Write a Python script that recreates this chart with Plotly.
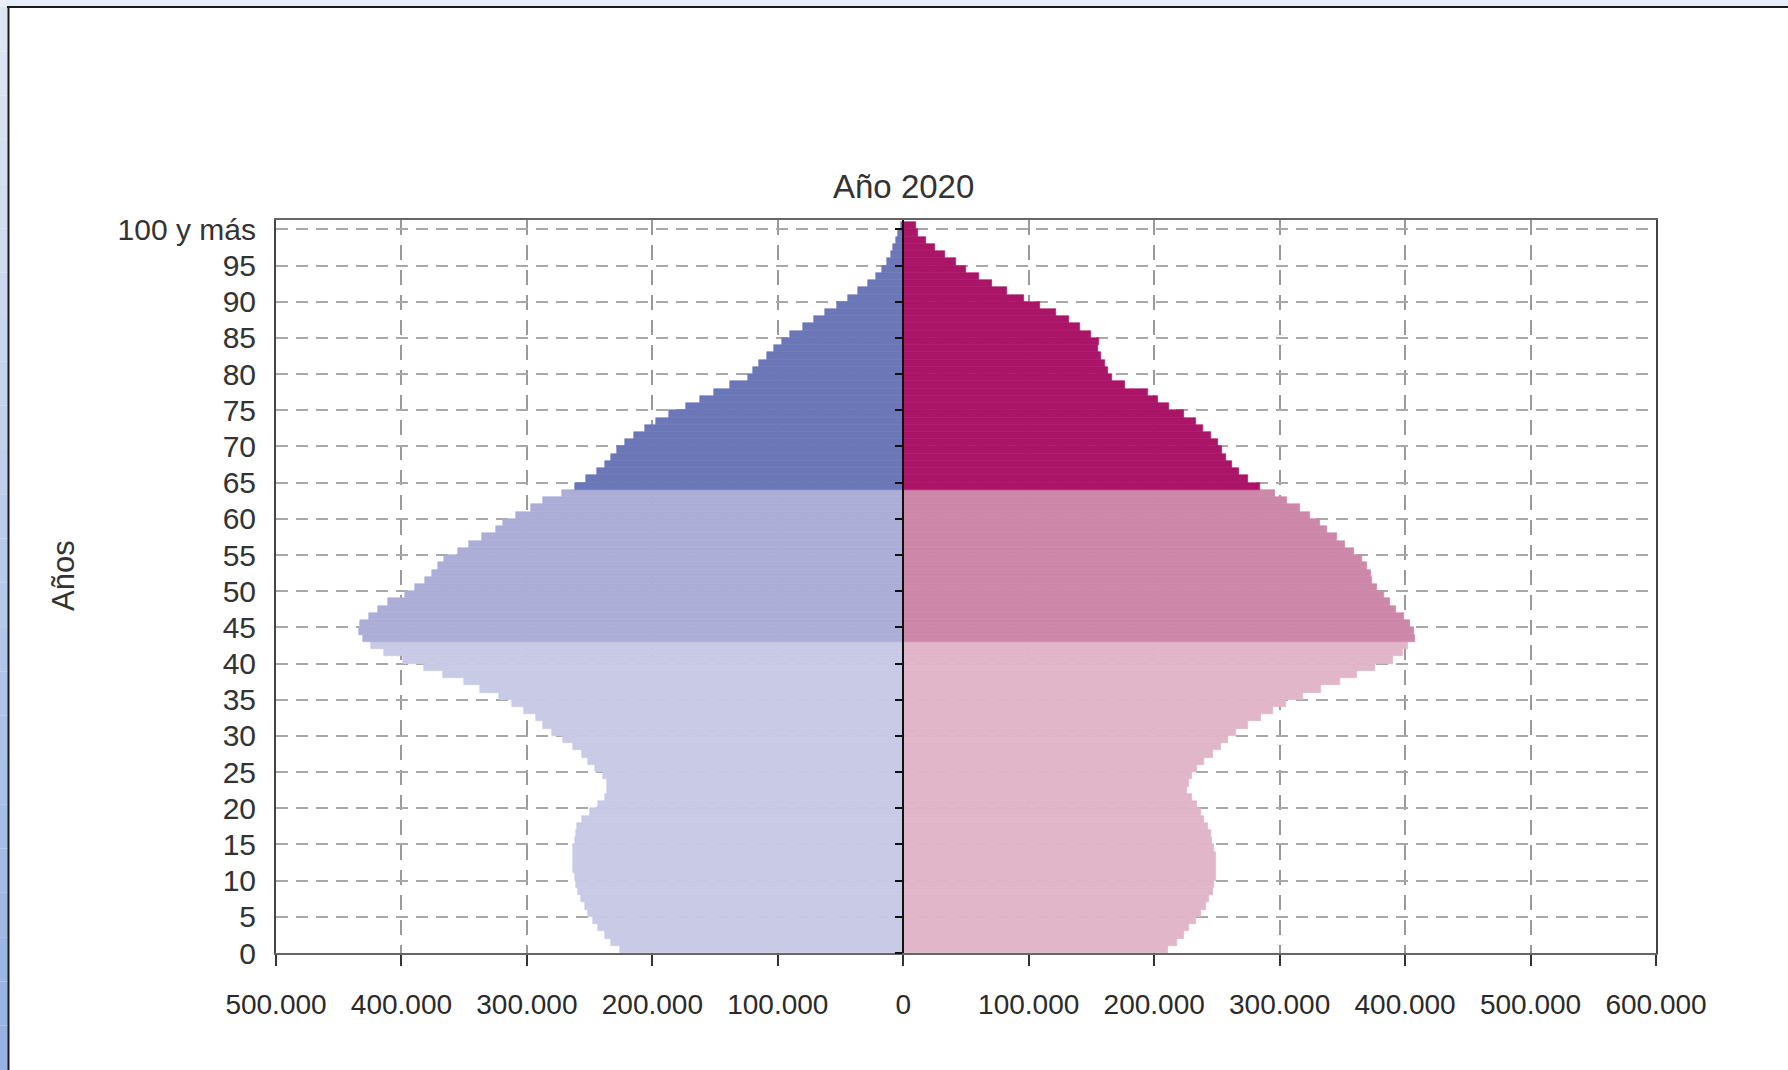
import plotly.graph_objects as go

# ---------------- data (thousands of people) ----------------
ages = list(range(101))  # 0 .. 100 (100 = "100 y más")

male_k = [226, 233, 238, 243, 247, 251, 254, 257, 259, 261,
          262, 263, 263, 263, 263, 262, 261, 260, 256, 250,
          243, 238, 236, 236, 239, 246, 251, 256, 263, 271,
          280, 287, 293, 302, 312, 322, 337, 350, 367, 382,
          399, 414, 424, 431, 434, 433, 426, 419, 411, 397,
          389, 381, 376, 371, 366, 355, 346, 336, 325, 319,
          309, 297, 287, 272, 262, 253, 244, 238, 233, 228,
          222, 215, 206, 197, 187, 173, 162, 151, 138, 124,
          120, 115, 109, 103, 97, 90, 80, 71, 62, 53,
          44, 36, 28, 22, 17, 13, 10, 8, 6, 4,
          2]

female_k = [211, 218, 224, 228, 233, 237, 241, 244, 247, 248,
            249, 249, 249, 249, 248, 246, 245, 243, 240, 237,
            234, 230, 226, 228, 230, 234, 240, 247, 253, 259,
            265, 275, 285, 295, 305, 319, 333, 348, 362, 376,
            390, 398, 402, 408, 407, 404, 399, 393, 388, 383,
            378, 374, 373, 370, 366, 359, 352, 346, 338, 332,
            324, 316, 306, 296, 284, 275, 268, 262, 257, 254,
            251, 245, 239, 233, 224, 212, 203, 195, 177, 166,
            163, 161, 158, 155, 156, 150, 141, 132, 122, 109,
            96, 83, 71, 60, 50, 42, 33, 25, 18, 12,
            10]

# age groups: 0-42, 43-63, 64 and over
group_start_mid = 43
group_start_old = 64

tick_ages = list(range(0, 101, 5))
tick_age_labels = [str(a) for a in tick_ages[:-1]] + ["100 y más"]

x_tick_vals = [-500000, -400000, -300000, -200000, -100000, 0,
               100000, 200000, 300000, 400000, 500000, 600000]
x_tick_labels = ["500.000", "400.000", "300.000", "200.000", "100.000", "0",
                 "100.000", "200.000", "300.000", "400.000", "500.000", "600.000"]

title_text = "Año 2020"
y_title = "Años"

# ---------------- styling ----------------
MALE_COLS = ("#C9CAE6", "#ACAED7", "#6C77B8")
FEMALE_COLS = ("#E0B6C8", "#CD87A8", "#AB1567")


def group_color(age, cols):
    if age >= group_start_old:
        return cols[2]
    if age >= group_start_mid:
        return cols[1]
    return cols[0]


male_colors = [group_color(a, MALE_COLS) for a in ages]
female_colors = [group_color(a, FEMALE_COLS) for a in ages]
y_pos = [a + 0.5 for a in ages]

fig = go.Figure()
fig.add_trace(go.Bar(
    y=y_pos, x=[-v * 1000 for v in male_k], orientation="h", width=1,
    marker=dict(color=male_colors, line=dict(color=male_colors, width=0.6)),
    name="Hombres", showlegend=False, hoverinfo="skip"))
fig.add_trace(go.Bar(
    y=y_pos, x=[v * 1000 for v in female_k], orientation="h", width=1,
    marker=dict(color=female_colors, line=dict(color=female_colors, width=0.6)),
    name="Mujeres", showlegend=False, hoverinfo="skip"))
# helper trace for centre axis
fig.add_trace(go.Scatter(x=[0], y=[0], yaxis="y2", mode="markers",
                         marker=dict(opacity=0), showlegend=False,
                         hoverinfo="skip"))

W, H = 1788, 1070
L, R, T, B = 276, 1656, 220, 953
PW, PH = R - L, B - T


def px(xp):
    return (xp - L) / PW


def py(yp):
    return (B - yp) / PH


Y_RANGE = [0, 101.3]

shapes = []
# outer page frame: top strip + line, left gradient strip + line
shapes.append(dict(type="rect", xref="paper", yref="paper", x0=px(0), x1=px(W),
                   y0=py(7), y1=py(0), fillcolor="#E8EEF7", line_width=0, layer="below"))
n_band = 24
c_top = (222, 230, 244)
c_bot = (150, 178, 226)
for i in range(n_band):
    t = i / (n_band - 1)
    c = tuple(int(round(c_top[k] + (c_bot[k] - c_top[k]) * t)) for k in range(3))
    y0p = 7 + (H - 7) * i / n_band
    y1p = 7 + (H - 7) * (i + 1) / n_band
    shapes.append(dict(type="rect", xref="paper", yref="paper", x0=px(0), x1=px(8),
                       y0=py(y1p), y1=py(y0p), fillcolor="rgb(%d,%d,%d)" % c,
                       line_width=0, layer="below"))
shapes.append(dict(type="line", xref="paper", yref="paper", x0=px(7), x1=px(W),
                   y0=py(7), y1=py(7), line=dict(color="#1b1b1b", width=2)))
shapes.append(dict(type="line", xref="paper", yref="paper", x0=px(8.5), x1=px(8.5),
                   y0=py(6), y1=py(H), line=dict(color="#1b1b1b", width=2)))

fig.update_layout(
    width=W, height=H,
    margin=dict(l=L, r=W - R, t=T, b=H - B, autoexpand=False),
    paper_bgcolor="white", plot_bgcolor="white",
    barmode="overlay", bargap=0,
    shapes=shapes,
    xaxis=dict(
        range=[-500000, 600000], tickvals=x_tick_vals, ticktext=x_tick_labels,
        showgrid=True, gridcolor="#9a9a9a", gridwidth=1.5, griddash="15px,10px",
        zeroline=False, showline=True, linecolor="#666", linewidth=2, mirror=True,
        ticks="outside", ticklen=11, tickwidth=2, tickcolor="#333",
        tickangle=0, automargin=False,
        tickfont=dict(family="Liberation Sans, Arial, sans-serif",
                      size=28, color="#2a2a2a"),
        ticklabelstandoff=14, fixedrange=True),
    yaxis=dict(
        range=Y_RANGE, tickvals=tick_ages, ticktext=tick_age_labels,
        showgrid=True, gridcolor="#a8a8a8", gridwidth=2, griddash="12px,8px",
        zeroline=False, showline=True, linecolor="#444", linewidth=2, mirror=True,
        automargin=False,
        ticks="", tickfont=dict(family="Liberation Sans, Arial, sans-serif", size=30, color="#333"),
        ticklabelstandoff=12, fixedrange=True),
    yaxis2=dict(
        overlaying="y", anchor="free", position=5 / 11, side="left",
        range=Y_RANGE, tickvals=tick_ages, showticklabels=False, showgrid=False,
        zeroline=False, showline=True, linecolor="#111", linewidth=2, automargin=False,
        ticks="outside", ticklen=7, tickwidth=2, tickcolor="#111", fixedrange=True),
    annotations=[
        dict(text=title_text, x=0, xref="x", y=py(186), yref="paper",
             xanchor="center", yanchor="middle", showarrow=False,
             font=dict(family="Liberation Sans, Arial, sans-serif", size=33, color="#333")),
        dict(text=y_title, x=px(63), xref="paper", y=py(576), yref="paper",
             xanchor="center", yanchor="middle", showarrow=False, textangle=-90,
             font=dict(family="Liberation Sans, Arial, sans-serif",
                       size=31, color="#333")),
    ],
)

fig.write_html("out.html", config={"displayModeBar": False},
               post_script="document.body.style.margin='0';document.body.style.overflow='hidden';")
